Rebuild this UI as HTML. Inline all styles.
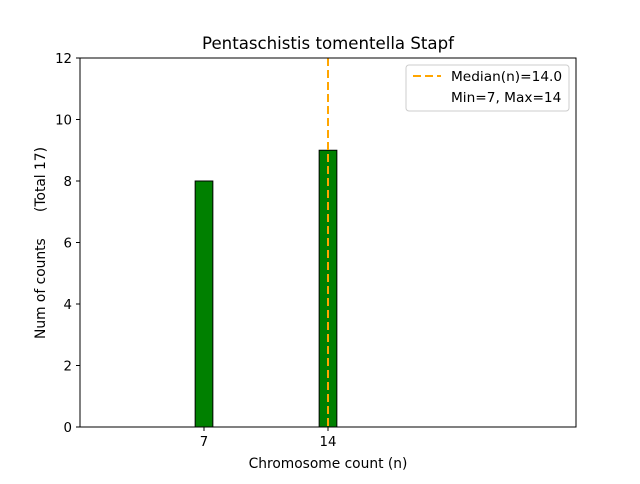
<!DOCTYPE html>
<html><head><meta charset="utf-8"><style>
body{margin:0;background:#fff;font-family:"DejaVu Sans","Liberation Sans",sans-serif}
text{white-space:pre}
</style></head><body>
<svg width="640" height="480" font-family="DejaVu Sans, Liberation Sans, sans-serif">
<text x="328" y="49" text-anchor="middle" font-size="16.6">Pentaschistis tomentella Stapf</text>
<g id="plot"></g>
<text x="328" y="468" text-anchor="middle" font-size="13.8">Chromosome count (n)</text>
<text transform="translate(45,243) rotate(-90)" text-anchor="middle" font-size="13.8" xml:space="preserve">Num of counts      (Total 17)</text>
<g>
<rect x="406" y="65" width="163" height="46" rx="3" fill="#fff" stroke="#ccc"/>
<line x1="413" y1="76" x2="441" y2="76" stroke="orange" stroke-width="2" stroke-dasharray="8,4"/>
<text x="451" y="81" font-size="13.7">Median(n)=14.0</text>
<text x="451" y="102" font-size="13.7">Min=7, Max=14</text>
</g>
</svg>
<script>
const categories=[7,14];
const counts=[8,9];
const median=14.0;
const yTicks=[0,2,4,6,8,10,12];
const xTicks=[7,14];
const L=80,R=576,T=58,B=427,xMin=0,xMax=28,yMin=0,yMax=12;
const X=v=>L+(v-xMin)/(xMax-xMin)*(R-L);
const Y=v=>B-(v-yMin)/(yMax-yMin)*(B-T);
const NS="http://www.w3.org/2000/svg";
const g=document.getElementById('plot');
function mk(t,a){const e=document.createElementNS(NS,t);for(const k in a)e.setAttribute(k,a[k]);g.appendChild(e);return e;}
const base=mk('line',{x1:X(0),y1:B,x2:X(17.5),y2:B,stroke:'#555','stroke-width':1});


categories.forEach((c,i)=>{
 const r=mk('rect',{x:X(c-0.5),y:Y(counts[i]),width:X(c+0.5)-X(c-0.5),height:B-Y(counts[i]),fill:'green',stroke:'#000','stroke-width':1});
 
 
});
const m=mk('line',{x1:X(median),y1:T,x2:X(median),y2:B,stroke:'orange','stroke-width':2,'stroke-dasharray':'8,4'});


const fr=mk('rect',{x:L,y:T,width:R-L,height:B-T,fill:'none',stroke:'#000','stroke-width':1});


yTicks.forEach(v=>{
 mk('line',{x1:L-4,y1:Y(v),x2:L,y2:Y(v),stroke:'#000'});
 const t=mk('text',{x:L-8,y:Y(v)+5,'text-anchor':'end','font-size':13.3});
 t.textContent=v;
 
 
});
xTicks.forEach(v=>{
 mk('line',{x1:X(v),y1:B,x2:X(v),y2:B+4,stroke:'#000'});
 const t=mk('text',{x:X(v),y:B+19,'text-anchor':'middle','font-size':13.3});
 t.textContent=v;
 
 
});
</script>
</body></html>
